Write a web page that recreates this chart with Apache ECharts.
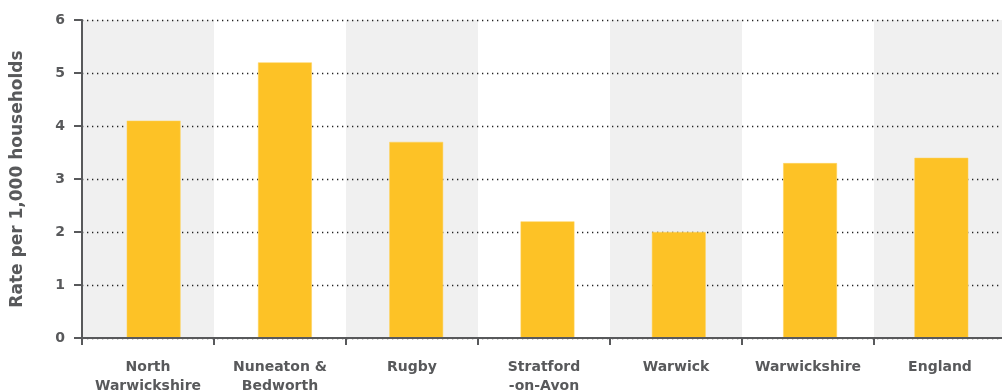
<!DOCTYPE html>
<html>
<head>
<meta charset="utf-8">
<script src="https://cdn.jsdelivr.net/npm/echarts@6/dist/echarts.min.js"></script>
<style>
  html, body { margin: 0; padding: 0; background: #fff; }
  #chart { width: 1002px; height: 392px; }
</style>
</head>
<body>
<div id="chart"></div>
<script>
// Households rate per 1,000 by area
const categories = ['North\nWarwickshire', 'Nuneaton &\nBedworth', 'Rugby', 'Stratford\n-on-Avon', 'Warwick', 'Warwickshire', 'England'];
const rates = [4.1, 5.2, 3.7, 2.2, 2.0, 3.3, 3.4];
const yTicks = [0, 1, 2, 3, 4, 5, 6];

const axisGrey = '#58595b';
const labelFont = 'DejaVu Sans';
const yMin = yTicks[0];
const yMax = yTicks[yTicks.length - 1];

const chart = echarts.init(document.getElementById('chart'));
chart.setOption({
  animation: false,
  grid: [
    // frame: shading, gridlines, axes and labels
    { left: 82, right: -4, top: 20, bottom: 54, outerBoundsMode: 'none', containLabel: false },
    // bars sit on a slightly narrower band spacing
    { left: 88, right: -5, top: 20, bottom: 54, outerBoundsMode: 'none', containLabel: false }
  ],
  xAxis: [{
    // alternating band shading behind everything
    type: 'category',
    gridIndex: 0,
    position: 'bottom',
    z: 0,
    data: categories,
    axisLine: { show: false },
    axisTick: { show: false },
    axisLabel: { show: false },
    splitArea: { show: true, interval: 0, areaStyle: { color: ['#f0f0f0', '#ffffff'] } }
  }, {
    // axis line, ticks and labels drawn on top of the bars
    type: 'category',
    gridIndex: 0,
    position: 'bottom',
    offset: 0,
    z: 5,
    data: categories,
    axisLine: { lineStyle: { color: axisGrey, width: 2 } },
    axisTick: { show: true, interval: 0, length: 7, lineStyle: { color: axisGrey, width: 2 } },
    axisLabel: {
      interval: 0, hideOverlap: false,
      color: axisGrey, fontFamily: labelFont, fontWeight: 'bold', fontSize: 14,
      margin: 20, lineHeight: 19
    },
    splitArea: { show: false },
    splitLine: { show: false }
  }, {
    // category scale for the bars
    type: 'category',
    gridIndex: 1,
    data: categories,
    show: false
  }],
  yAxis: [{
    type: 'value',
    gridIndex: 0,
    z: 2,
    min: yMin,
    max: yMax,
    interval: 1,
    name: 'Rate per 1,000 households',
    nameLocation: 'middle',
    nameGap: 56,
    nameTextStyle: { color: axisGrey, fontFamily: labelFont, fontWeight: 'bold', fontSize: 17 },
    axisLine: { show: true, lineStyle: { color: axisGrey, width: 2 } },
    axisTick: { show: true, length: 8, lineStyle: { color: axisGrey, width: 2 } },
    axisLabel: { color: axisGrey, fontFamily: labelFont, fontWeight: 'bold', fontSize: 14, margin: 17 },
    splitLine: { show: true, lineStyle: { color: '#222', width: 1.3, type: [1.3, 3.7] } }
  }, {
    type: 'value',
    gridIndex: 1,
    min: yMin,
    max: yMax,
    interval: 1,
    show: false
  }],
  series: [{
    type: 'bar',
    xAxisIndex: 2,
    yAxisIndex: 1,
    data: rates,
    barWidth: '41%',
    itemStyle: { color: '#fdc226', borderColor: '#fed35c', borderWidth: 0.5 },
    z: 3
  }]
});
</script>
</body>
</html>
